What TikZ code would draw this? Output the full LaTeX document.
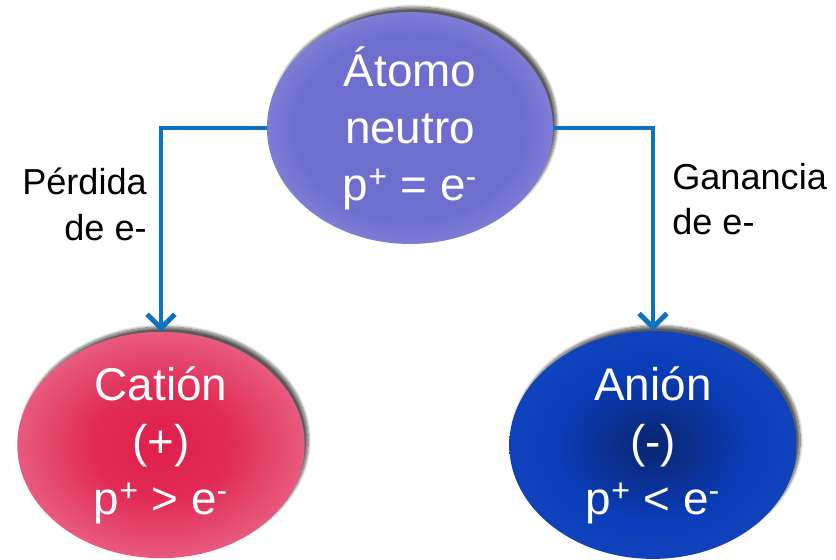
\documentclass[tikz,border=0pt]{standalone}
\usepackage{fontspec}
\setmainfont{Liberation Sans}
\usetikzlibrary{shapes.geometric,arrows.meta,shadows.blur}

\definecolor{flecha}{HTML}{1070C2}
\definecolor{atomoin}{HTML}{6E6ECF}
\definecolor{atomoout}{HTML}{ABABE8}
\definecolor{cationin}{HTML}{DE1F4B}
\definecolor{cationout}{HTML}{F295B0}
\definecolor{anionin}{HTML}{0A2570}
\definecolor{anionmid}{HTML}{0A3DB8}
\definecolor{anionout}{HTML}{5080E0}

\pgfdeclareradialshading{atomoshade}{\pgfpoint{0bp}{0bp}}{color(0bp)=(atomoin); color(20bp)=(atomoin); color(40bp)=(atomoout); color(100bp)=(atomoout)}
\pgfdeclareradialshading{cationshade}{\pgfpoint{0bp}{0bp}}{color(0bp)=(cationin); color(12bp)=(cationin!90!cationout); color(41bp)=(cationout); color(100bp)=(cationout)}
\pgfdeclareradialshading{anionshade}{\pgfpoint{0bp}{0bp}}{color(0bp)=(anionin); color(17bp)=(anionmid); color(31bp)=(anionmid!85!anionout); color(42bp)=(anionout); color(100bp)=(anionout)}

\tikzset{
  ion/.style={ellipse, inner sep=0pt, align=center, text=white,
    font=\fontsize{33pt}{41pt}\selectfont,
    blur shadow={shadow xshift=2.5pt, shadow yshift=3.5pt, shadow opacity=65, shadow blur steps=10}},
  rama/.style={draw=flecha, line width=3.5pt, -{Straight Barb[length=10pt, width=20pt]}},
  etiq/.style={font=\fontsize{26pt}{32.5pt}\selectfont, inner sep=0pt}
}

\begin{document}
\begin{tikzpicture}[x=0.72pt, y=-0.72pt]
  \useasboundingbox (0,0) rectangle (836,560);
  \node[ion, shading=atomoshade, minimum width=206pt, minimum height=167pt] (atomo) at (410,128)
    {Átomo\\neutro\\p\textsuperscript{+} = e\textsuperscript{-}};
  \node[ion, shading=cationshade, minimum width=207pt, minimum height=163pt] (cation) at (161,445)
    {Catión\\(+)\\p\textsuperscript{+} > e\textsuperscript{-}};
  \node[ion, shading=anionshade, minimum width=207pt, minimum height=164pt] (anion) at (653,445)
    {Anión\\(-)\\p\textsuperscript{+} < e\textsuperscript{-}};

  \draw[rama] (atomo.west) -| (cation.north);
  \draw[rama] (atomo.east) -| (anion.north);

  \node[etiq, align=right, anchor=north east] (perdida) at (147,168) {Pérdida\\de e-};
  \node[etiq, align=left, anchor=north west] (ganancia) at (672,163) {Ganancia\\de e-};
\end{tikzpicture}
\end{document}
